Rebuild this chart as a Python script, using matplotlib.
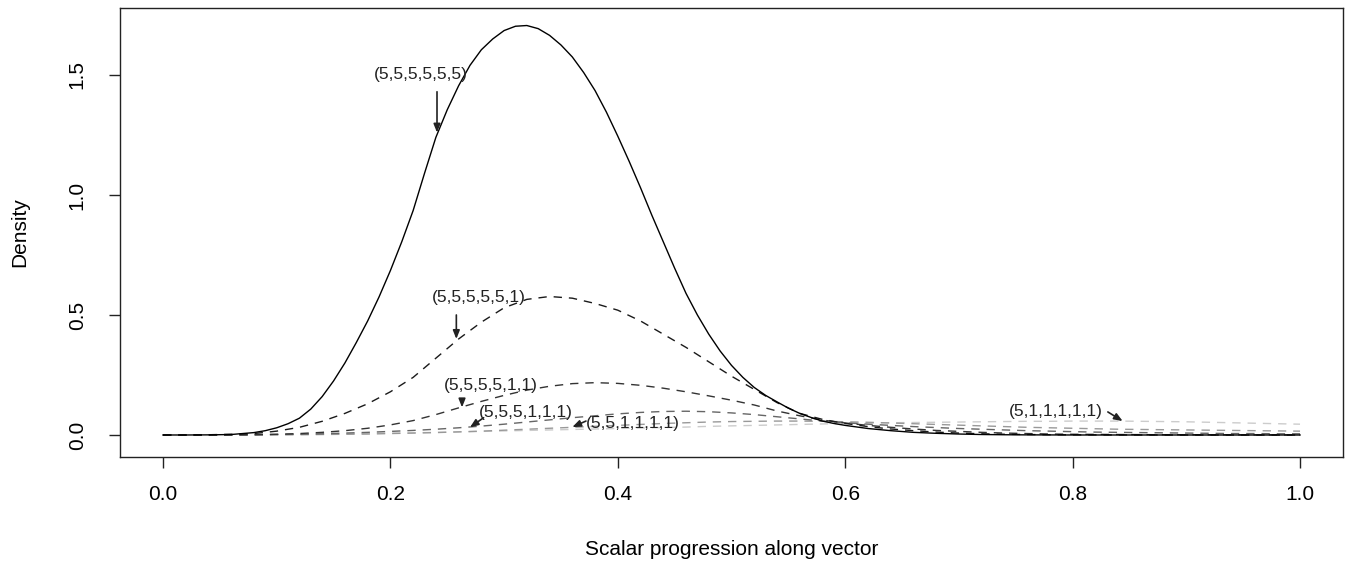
import numpy as np
import matplotlib
matplotlib.use("Agg")
import matplotlib.pyplot as plt

plt.rcParams['font.family'] = ['Liberation Sans', 'DejaVu Sans']

# Shared x grid (scalar progression along vector)
x = [0.00, 0.02, 0.04, 0.06, 0.08, 0.10, 0.12, 0.14, 0.16, 0.18,
     0.20, 0.22, 0.24, 0.26, 0.28, 0.30, 0.32, 0.34, 0.36, 0.38,
     0.40, 0.42, 0.44, 0.46, 0.48, 0.50, 0.52, 0.54, 0.56, 0.58,
     0.60, 0.62, 0.64, 0.66, 0.68, 0.70, 0.72, 0.74, 0.76, 0.78,
     0.80, 0.82, 0.84, 0.86, 0.88, 0.90, 0.92, 0.94, 0.96, 0.98, 1.00]

# finer grid for the tall solid curve
x_fine = [0.00, 0.02, 0.04, 0.06, 0.08, 0.09, 0.10, 0.11, 0.12, 0.13,
          0.14, 0.15, 0.16, 0.17, 0.18, 0.19, 0.20, 0.21, 0.22, 0.23,
          0.24, 0.25, 0.26, 0.27, 0.28, 0.29, 0.30, 0.31, 0.32, 0.33,
          0.34, 0.35, 0.36, 0.37, 0.38, 0.39, 0.40, 0.41, 0.42, 0.43,
          0.44, 0.45, 0.46, 0.47, 0.48, 0.49, 0.50, 0.51, 0.52, 0.53,
          0.54, 0.55, 0.56, 0.57, 0.58, 0.59, 0.60, 0.62, 0.64, 0.66,
          0.68, 0.70, 0.72, 0.74, 0.76, 0.80, 0.90, 1.00]

d_555555 = [0, 0, 0.0005, 0.002, 0.010, 0.018, 0.030, 0.047, 0.070, 0.108,
            0.160, 0.225, 0.300, 0.385, 0.475, 0.575, 0.685, 0.805, 0.935, 1.090,
            1.240, 1.355, 1.455, 1.540, 1.605, 1.650, 1.685, 1.703, 1.706, 1.693,
            1.665, 1.625, 1.575, 1.510, 1.435, 1.345, 1.245, 1.140, 1.030, 0.915,
            0.805, 0.695, 0.590, 0.500, 0.420, 0.350, 0.290, 0.240, 0.198, 0.165,
            0.138, 0.112, 0.090, 0.073, 0.058, 0.048, 0.040, 0.027, 0.018, 0.011,
            0.007, 0.004, 0.002, 0.001, 0.0005, 0, 0, 0]

d_555551 = [0, 0, 0.001, 0.003, 0.006, 0.016, 0.032, 0.057, 0.09, 0.13,
            0.18, 0.24, 0.32, 0.40, 0.47, 0.53, 0.565, 0.577, 0.57, 0.548,
            0.52, 0.475, 0.42, 0.365, 0.305, 0.245, 0.19, 0.135, 0.09, 0.065,
            0.048, 0.035, 0.025, 0.018, 0.012, 0.008, 0.005, 0.003, 0.002, 0.001,
            0.0007, 0.0005, 0.0003, 0.0002, 0.0001, 0, 0, 0, 0, 0, 0]

d_555511 = [0, 0, 0, 0, 0.001, 0.003, 0.006, 0.011, 0.018, 0.028,
            0.042, 0.06, 0.085, 0.113, 0.14, 0.165, 0.187, 0.203, 0.214, 0.218,
            0.215, 0.207, 0.195, 0.18, 0.163, 0.145, 0.125, 0.1, 0.08, 0.062,
            0.05, 0.04, 0.032, 0.025, 0.019, 0.015, 0.011, 0.008, 0.006, 0.004,
            0.003, 0.0025, 0.002, 0.0015, 0.001, 0.001, 0.0008, 0.0006, 0.0005, 0.0004, 0.0003]

d_555111 = [0, 0, 0, 0.0005, 0.001, 0.002, 0.003, 0.005, 0.008, 0.011,
            0.015, 0.019, 0.024, 0.03, 0.037, 0.045, 0.054, 0.063, 0.072, 0.08,
            0.088, 0.094, 0.098, 0.099, 0.097, 0.092, 0.085, 0.076, 0.067, 0.058,
            0.051, 0.045, 0.04, 0.035, 0.031, 0.027, 0.024, 0.021, 0.018, 0.016,
            0.014, 0.012, 0.011, 0.010, 0.009, 0.008, 0.007, 0.006, 0.006, 0.005, 0.005]

d_551111 = [0, 0, 0, 0, 0, 0.001, 0.001, 0.002, 0.003, 0.004,
            0.006, 0.008, 0.010, 0.013, 0.016, 0.020, 0.024, 0.028, 0.032, 0.036,
            0.040, 0.044, 0.048, 0.051, 0.054, 0.056, 0.057, 0.058, 0.058, 0.057,
            0.055, 0.053, 0.050, 0.047, 0.044, 0.041, 0.038, 0.035, 0.032, 0.030,
            0.028, 0.026, 0.024, 0.023, 0.022, 0.021, 0.020, 0.019, 0.018, 0.017, 0.016]

d_511111 = [0, 0, 0.0005, 0.001, 0.0015, 0.002, 0.003, 0.004, 0.005, 0.006,
            0.008, 0.009, 0.011, 0.013, 0.015, 0.017, 0.019, 0.021, 0.023, 0.025,
            0.027, 0.029, 0.031, 0.033, 0.036, 0.038, 0.040, 0.042, 0.044, 0.046,
            0.048, 0.050, 0.051, 0.052, 0.053, 0.054, 0.055, 0.056, 0.057, 0.057,
            0.058, 0.058, 0.058, 0.057, 0.056, 0.055, 0.053, 0.051, 0.049, 0.047, 0.045]

labels = ["(5,5,5,5,5,5)", "(5,5,5,5,5,1)", "(5,5,5,5,1,1)",
          "(5,5,5,1,1,1)", "(5,5,1,1,1,1)", "(5,1,1,1,1,1)"]
series = [d_555555, d_555551, d_555511, d_555111, d_551111, d_511111]
xs = [x_fine, x, x, x, x, x]
colors = ['black', '#1a1a1a', '#333333', '#666666', '#999999', '#cccccc']

# label text positions and arrow (start -> end) in data coords
text_pos = [(0.227, 1.50), (0.278, 0.571), (0.288, 0.208),
            (0.319, 0.093), (0.413, 0.049), (0.785, 0.096)]
arrow_from = [(0.241, 1.43), (0.258, 0.50), (0.263, 0.150),
              (0.282, 0.072), (0.372, 0.058), (0.831, 0.096)]
arrow_to = [(0.241, 1.26), (0.258, 0.40), (0.263, 0.115),
            (0.270, 0.032), (0.360, 0.033), (0.844, 0.058)]

xticks = [0.0, 0.2, 0.4, 0.6, 0.8, 1.0]
yticks = [0.0, 0.5, 1.0, 1.5]

fig = plt.figure(figsize=(13.51, 5.65), dpi=100)
ax = fig.add_axes([120/1351, 1 - 457/565, (1343-120)/1351, (457-8)/565])

for i in range(len(series) - 1, -1, -1):
    if i == 0:
        ax.plot(xs[i], series[i], color=colors[i], lw=1.0, solid_joinstyle='round')
    else:
        ax.plot(xs[i], series[i], color=colors[i], lw=1.0, dashes=(6, 5))

for lab, tp, af, at in zip(labels, text_pos, arrow_from, arrow_to):
    ax.text(tp[0], tp[1], lab, ha='center', va='center', fontsize=12.5, color='#222222')
    ax.annotate('', xy=at, xytext=af,
                arrowprops=dict(arrowstyle='-|>,head_length=0.5,head_width=0.2',
                                color='#222222', lw=1.2, shrinkA=0, shrinkB=0))

ax.set_xlim(-0.0378, 1.0378)
ax.set_ylim(-0.0917, 1.779)
ax.set_xticks(xticks)
ax.set_xticklabels([f"{t:.1f}" for t in xticks])
ax.set_yticks(yticks)
ax.set_yticklabels([f"{t:.1f}" for t in yticks], rotation=90, va='center')
ax.tick_params(axis='both', length=8, width=1, labelsize=15, color='#222222')
ax.tick_params(axis='x', pad=12)
ax.tick_params(axis='y', pad=16)
for s in ax.spines.values():
    s.set_linewidth(1.0)
    s.set_color('#222222')

ax.set_xlabel("Scalar progression along vector", fontsize=15, labelpad=26)
ax.set_ylabel("Density", fontsize=15, labelpad=28)

fig.savefig("out.png", dpi=100)
